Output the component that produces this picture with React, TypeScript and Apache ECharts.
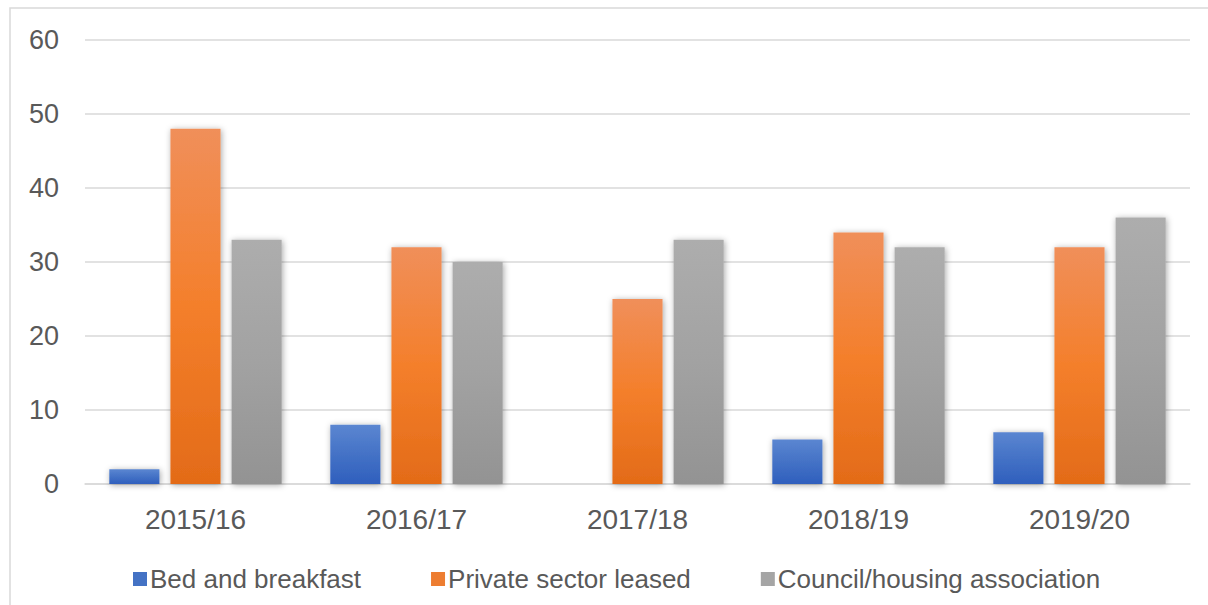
import React, { useEffect, useRef } from "react";
import * as echarts from "echarts";

const categories = ["2015/16", "2016/17", "2017/18", "2018/19", "2019/20"];
const bedAndBreakfast = [2, 8, 0, 6, 7];
const privateSectorLeased = [48, 32, 25, 34, 32];
const councilHousing = [33, 30, 33, 32, 36];
const seriesNames = ["Bed and breakfast", "Private sector leased", "Council/housing association"];

const grad = (top: string, mid: string, bottom: string) =>
  new echarts.graphic.LinearGradient(0, 0, 0, 1, [
    { offset: 0, color: top },
    { offset: 0.5, color: mid },
    { offset: 1, color: bottom },
  ]);

export default function App() {
  const ref = useRef<HTMLDivElement>(null);
  useEffect(() => {
    if (!ref.current) return;
    const chart = echarts.init(ref.current, null, { renderer: "svg" });
    const shadow = {
      shadowBlur: 6,
      shadowColor: "rgba(0,0,0,0.35)",
      shadowOffsetX: 1,
      shadowOffsetY: 1,
    };
    const mk = (name: string, data: number[], color: any) => ({
      name,
      type: "bar",
      data,
      barGap: "22%",
      barCategoryGap: "22%",
      itemStyle: { color, ...shadow },
    });
    chart.setOption({
      animation: false,
      backgroundColor: "#ffffff",
      textStyle: { fontFamily: "Liberation Sans, Arial, sans-serif" },
      graphic: [
        {
          type: "rect",
          shape: { x: 10, y: 8, width: 1220, height: 640 },
          style: { fill: "none", stroke: "#d9d9d9", lineWidth: 1.5 },
          silent: true,
          z: -1,
        },
      ],
      grid: { left: 85, right: 18, top: 40, bottom: 121, containLabel: false },
      xAxis: {
        type: "category",
        data: categories,
        axisTick: { show: false },
        axisLine: { lineStyle: { color: "#d9d9d9", width: 1.5 } },
        axisLabel: { color: "#595959", fontSize: 28, margin: 21 },
      },
      yAxis: {
        type: "value",
        min: 0,
        max: 60,
        interval: 10,
        axisLine: { show: false },
        axisTick: { show: false },
        splitLine: { lineStyle: { color: "#d9d9d9", width: 1.5 } },
        axisLabel: { color: "#595959", fontSize: 27, margin: 26 },
      },
      legend: {
        data: seriesNames.map((n, i) => ({
          name: n,
          itemStyle: { color: ["#4472c4", "#ed7d31", "#a5a5a5"][i] },
        })),
        left: 128,
        top: 561,
        itemWidth: 14,
        itemHeight: 14,
        itemGap: 70,
        icon: "rect",
        textStyle: { color: "#595959", fontSize: 26, padding: [0, 0, 0, -2] },
      },
      series: [
        mk(seriesNames[0], bedAndBreakfast, grad("#5b86d1", "#4472c6", "#2f5fbd")),
        mk(seriesNames[1], privateSectorLeased, grad("#f08f5a", "#f47f2b", "#e36b18")),
        mk(seriesNames[2], councilHousing, grad("#adadad", "#a2a2a2", "#939393")),
      ],
    });
    return () => chart.dispose();
  }, []);
  return (
    <div
      ref={ref}
      style={{ position: "fixed", left: 0, top: 0, width: 1208, height: 605 }}
    />
  );
}
